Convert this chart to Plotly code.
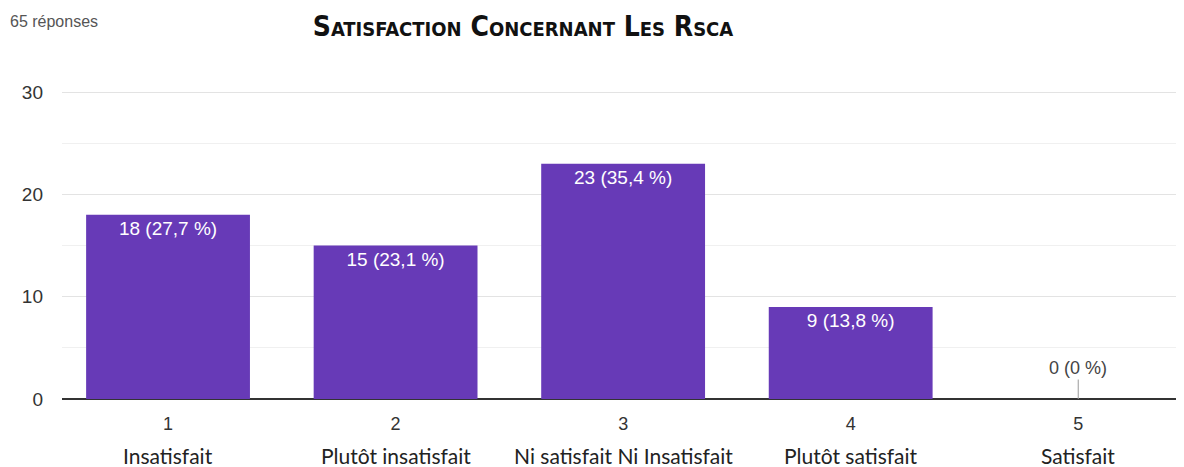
import plotly.graph_objects as go

categories = [1, 2, 3, 4, 5]
tick_labels = ["1", "2", "3", "4", "5"]
category_names = ["Insatisfait", "Plutôt insatisfait", "Ni satisfait Ni Insatisfait",
                  "Plutôt satisfait", "Satisfait"]
counts = [18, 15, 23, 9, 0]
percents = ["27,7", "23,1", "35,4", "13,8", "0"]

bar_text = [f"{c} ({p} %)" if c > 0 else "" for c, p in zip(counts, percents)]

L, T, B = 54, 83, 76
W, H = 1184, 467
plot_w = W - L
plot_h = H - T - B

fig = go.Figure()
fig.add_trace(go.Bar(
    x=categories, y=counts, width=0.72,
    marker=dict(color="#673ab7", line=dict(width=0)),
    text=bar_text, textposition="inside", insidetextanchor="end",
    textfont=dict(family="Liberation Sans, Arial, sans-serif", size=19, color="white"),
    hoverinfo="skip",
))

annotations = []
for c, n, p, name in zip(categories, counts, percents, category_names):
    annotations.append(dict(
        x=c, xref="x", y=-56 / plot_h, yref="paper", text=name, showarrow=False,
        yanchor="middle", font=dict(family="Lato, sans-serif", size=21, color="#222"),
    ))
    if n == 0:
        annotations.append(dict(
            x=c, y=n, xref="x", yref="y", text=f"{n} ({p} %)", showarrow=True,
            arrowhead=0, arrowwidth=1, arrowcolor="#999", ax=0, ay=-31,
            font=dict(family="Liberation Sans, Arial, sans-serif", size=18, color="#444"),
        ))

annotations.append(dict(
    x=-L / plot_w, xref="paper", xanchor="left", y=1 + (T - 13) / plot_h, yref="paper",
    yanchor="middle", text="65 réponses",
    showarrow=False, font=dict(family="Liberation Sans, Arial, sans-serif", size=16, color="#555"),
))

fig.update_layout(
    width=W, height=H,
    margin=dict(l=L, r=0, t=T, b=B),
    paper_bgcolor="white", plot_bgcolor="white",
    showlegend=False,
    title=dict(
        text="<b>Satisfaction Concernant Les Rsca</b>",
        x=515 / W, xanchor="center", y=1 - 18 / H, yanchor="middle",
        font=dict(family="Liberation Sans Narrow, DejaVu Sans Condensed, sans-serif",
                  size=28, color="#111", variant="small-caps"),
    ),
    xaxis=dict(
        range=[0.534, 5.5], tickmode="array", tickvals=categories, ticktext=tick_labels,
        showgrid=False, zeroline=False, showline=False, ticks="",
        tickfont=dict(family="Liberation Sans, Arial, sans-serif", size=18, color="#333"),
        ticklabelstandoff=12, fixedrange=True,
    ),
    yaxis=dict(
        range=[0, 30.1], tickvals=[0, 10, 20, 30], showgrid=True, gridcolor="#e3e3e3",
        gridwidth=1,
        minor=dict(tickvals=[5, 15, 25], showgrid=True, gridcolor="#f0f0f0", gridwidth=1),
        zeroline=True, zerolinecolor="#333", zerolinewidth=1.5, showline=False,
        tickfont=dict(family="Liberation Sans, Arial, sans-serif", size=19, color="#333"),
        ticklabelstandoff=18, fixedrange=True,
    ),
    annotations=annotations,
)

fig.write_html("out.html")
